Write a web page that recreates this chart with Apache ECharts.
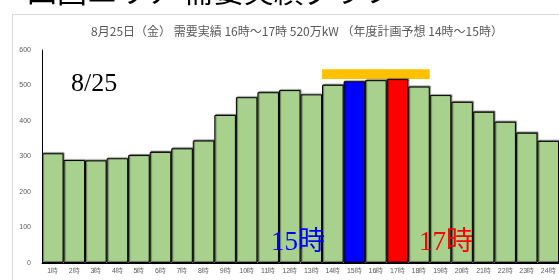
<!DOCTYPE html>
<html style="height: 100%">
<head>
  <meta charset="utf-8">
  <title>demo</title>
</head>
<body style="height: 100%; margin: 0">
<div id="container" style="height: 280px;width:559px;background: #fff"></div>

<script type="text/javascript" src="https://cdn.jsdelivr.net/npm/echarts@6/dist/echarts.min.js"></script>
<script type="text/javascript">
  var hours = ['1時','2時','3時','4時','5時','6時','7時','8時','9時','10時','11時','12時',
    '13時','14時','15時','16時','17時','18時','19時','20時','21時','22時','23時','24時'];
  var demand = [309,290,289,295,304,313,323,345,417,467,481,487,
    475,502,512,515,518,497,473,454,426,398,367,344];
  // 年度計画予想 band: [first hour, last hour, low, high]
  var planBand = [['14時', '18時', 518, 546]];
  var peakPlan = '15時';
  var peakActual = '17時';

  var dom = document.getElementById('container');
  var myChart = echarts.init(dom);

  var barData = demand.map(function (v, i) {
    var c = '#A9D18E';
    if (hours[i] === peakPlan) c = '#0000FF';
    if (hours[i] === peakActual) c = '#FF0000';
    return { value: v, itemStyle: { color: c } };
  });

  var option = {
    animation: false,
    title: [{
      text: '四国エリア 需要実績グラフ',
      left: 22,
      top: -29,
      textStyle: { fontSize: 30, fontWeight: 'normal', color: '#000', fontFamily: 'Noto Sans CJK JP' }
    }, {
      text: '8月25日（金） 需要実績 16時～17時 520万kW （年度計画予想 14時～15時）',
      left: 292,
      textAlign: 'center',
      top: 20,
      textStyle: { fontSize: 12, fontWeight: 'normal', color: '#595959', fontFamily: 'Noto Sans CJK JP' }
    }],
    graphic: [
      { type: 'line', shape: { x1: 12, y1: 14.5, x2: 559, y2: 14.5 }, style: { stroke: '#d9d9d9', lineWidth: 1 } },
      { type: 'line', shape: { x1: 12.5, y1: 14, x2: 12.5, y2: 280 }, style: { stroke: '#d9d9d9', lineWidth: 1 } },
      { type: 'text', left: 71, top: 71, style: { text: '8/25', font: '26px "Liberation Serif"', fill: '#000' } },
      { type: 'text', left: 271, top: 229, z: 10, style: { text: '15時', font: '27px "Liberation Serif", "Noto Sans CJK JP"', fill: '#0000FF' } },
      { type: 'text', left: 419, top: 229, z: 10, style: { text: '17時', font: '27px "Liberation Serif", "Noto Sans CJK JP"', fill: '#FF0000' } }
    ],
    grid: { left: 42, right: 0, top: 50, bottom: 17 },
    xAxis: {
      type: 'category',
      data: hours,
      axisLine: { lineStyle: { color: '#000', width: 1 } },
      axisTick: { show: false },
      axisLabel: { fontSize: 7, color: '#595959', margin: 5, interval: 0 }
    },
    yAxis: {
      type: 'value',
      min: 0,
      max: 600,
      interval: 100,
      axisLine: { show: true, lineStyle: { color: '#000', width: 1 } },
      axisTick: { show: false },
      splitLine: { show: false },
      axisLabel: { fontSize: 7, color: '#595959', margin: 11 }
    },
    series: [{
      type: 'bar',
      data: barData,
      barCategoryGap: 0,
      itemStyle: {
        borderColor: '#000',
        borderWidth: 1,
        shadowColor: 'rgba(0,0,0,0.45)',
        shadowBlur: 1,
        shadowOffsetX: 1,
        shadowOffsetY: -1
      }
    }, {
      type: 'custom',
      data: planBand,
      encode: { x: [0, 1], y: [2, 3] },
      renderItem: function (params, api) {
        var bw = api.size([1, 0])[0];
        var p1 = api.coord([api.value(0), api.value(3)]);
        var p2 = api.coord([api.value(1), api.value(2)]);
        return {
          type: 'rect',
          shape: { x: p1[0] - bw / 2, y: p1[1], width: p2[0] - p1[0] + bw, height: p2[1] - p1[1] },
          style: { fill: '#FFC000' }
        };
      }
    }]
  };

  myChart.setOption(option);
</script>
</body>
</html>
